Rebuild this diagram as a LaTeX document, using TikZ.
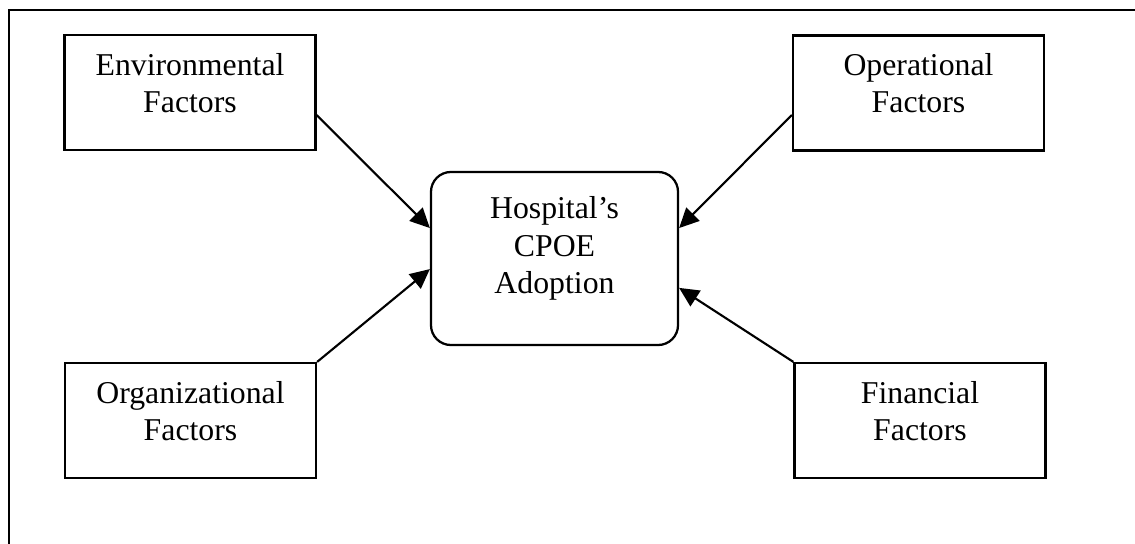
\documentclass[tikz,border=0pt]{standalone}
\usepackage{fontspec}
\setmainfont{Liberation Serif}
\usepackage{tikz}
\usetikzlibrary{arrows.meta}

\begin{document}
\begin{tikzpicture}[x=0.3777pt, y=-0.3777pt,
    factor/.style={rectangle, draw, line width=0.85pt, inner sep=0pt, text width=94.8pt, align=center, text height=15.1pt, text depth=28.3pt},
    adopt/.style={rectangle, draw, line width=0.85pt, rounded corners=7.5pt, inner sep=0pt, text width=93.3pt, align=center, text height=17.75pt, text depth=47.6pt},
    arrow/.style={->, >={Triangle[length=7.4pt,width=7pt]}, line width=0.8pt}]

    \useasboundingbox (0,0) rectangle (1135,544);
    \draw[line width=0.8pt] (9,544) -- (9,10) -- (1135,10);

    \begin{scope}[font=\fontsize{12pt}{14pt}\selectfont]
    \node[adopt] (cpoe) at (554.5,258.5) {Hospital's\\CPOE\\Adoption};
    \node[factor] (env) at (190,92.5) {Environmental\\Factors};
    \node[factor] (oper) at (918.5,93) {Operational\\Factors};
    \node[factor] (org) at (190.5,420.5) {Organizational\\Factors};
    \node[factor] (fin) at (920,420.5) {Financial\\Factors};
    \end{scope}

    \draw[arrow] ([yshift=-8.5pt]env.east) -- ([yshift=11.5pt]cpoe.west);
    \draw[arrow] (org.north east) -- ([yshift=-4pt]cpoe.west);
    \draw[arrow] ([yshift=-8.3pt]oper.west) -- ([yshift=11.5pt]cpoe.east);
    \draw[arrow] (fin.north west) -- ([yshift=-11.1pt]cpoe.east);
\end{tikzpicture}
\end{document}
